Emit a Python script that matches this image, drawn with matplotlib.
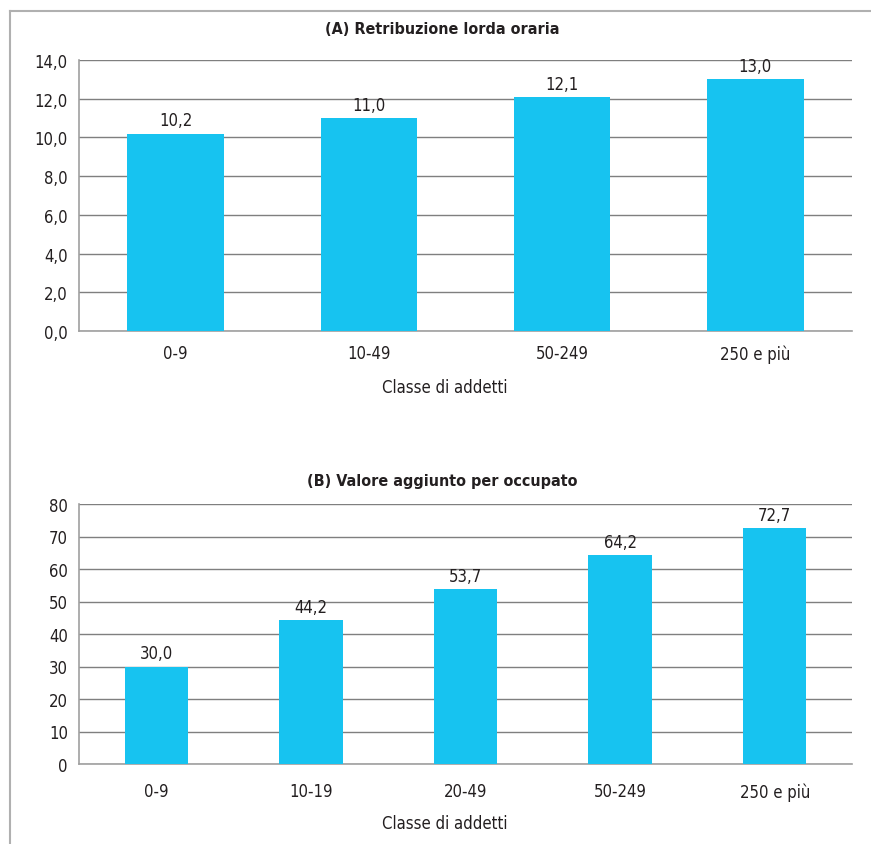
import matplotlib.pyplot as plt
from matplotlib.lines import Line2D

plt.rcParams['font.family'] = ['DejaVu Sans']
plt.rcParams['font.stretch'] = 'condensed'

# Panel A: gross hourly pay by firm size
classi_a = ["0-9", "10-49", "50-249", "250 e più"]
retribuzione = [10.2, 11.0, 12.1, 13.0]

# Panel B: value added per employee by firm size
classi_b = ["0-9", "10-19", "20-49", "50-249", "250 e più"]
valore_aggiunto = [30.0, 44.2, 53.7, 64.2, 72.7]

bar_color = "#17C3F0"
grid_color = "#7f7f7f"
text_color = "#231f20"

fig = plt.figure(figsize=(8.71, 8.45), dpi=100)

# outer frame (top and left rules)
fig.add_artist(Line2D([10 / 871, 10 / 871], [0, 1 - 12 / 845], color="#b0b0b0", lw=1.5))
fig.add_artist(Line2D([10 / 871, 1], [1 - 12 / 845, 1 - 12 / 845], color="#b0b0b0", lw=1.5))


def one_dec(v):
    return f"{v:.1f}".replace(".", ",")


def draw_panel(ax, cats, vals, width, ymax, step, tick_fmt, title,
               title_pad, tick_pad, label_y):
    x = range(len(cats))
    bars = ax.bar(x, vals, width=width, color=bar_color, zorder=3)
    ax.set_xlim(-0.5, len(cats) - 0.5)
    ax.set_ylim(0, ymax)
    ticks = [i * step for i in range(int(round(ymax / step)) + 1)]
    ax.set_yticks(ticks)
    ax.set_yticklabels([tick_fmt(t) for t in ticks])
    ax.set_xticks(list(x))
    ax.set_xticklabels(cats)
    ax.tick_params(length=0, labelsize=12, colors=text_color, pad=8)
    ax.tick_params(axis="x", pad=tick_pad)
    ax.grid(axis="y", color=grid_color, lw=1.0, zorder=0)
    for s in ["top", "right"]:
        ax.spines[s].set_visible(False)
    for s in ["left", "bottom"]:
        ax.spines[s].set_color("#a0a0a0")
        ax.spines[s].set_linewidth(1.2)
    for b, v in zip(bars, vals):
        ax.annotate(one_dec(v), (b.get_x() + b.get_width() / 2, v),
                    xytext=(0, 3), textcoords="offset points",
                    ha="center", va="bottom", fontsize=12, color=text_color)
    ax.set_title(title, fontsize=11.5, fontweight="bold", color=text_color,
                 pad=title_pad, x=(442 - 79) / 773)
    ax.set_xlabel("Classe di addetti", fontsize=12, color=text_color)
    ax.xaxis.set_label_coords((445 - 79) / 773, label_y)


ax_a = fig.add_axes([79 / 871, 1 - 332 / 845, 773 / 871, 271 / 845])
draw_panel(ax_a, classi_a, retribuzione, 0.5, 14, 2, one_dec,
           "(A) Retribuzione lorda oraria", 19.5, 9.5, -0.173)

ax_b = fig.add_axes([79 / 871, 1 - 765 / 845, 773 / 871, 260 / 845])
draw_panel(ax_b, classi_b, valore_aggiunto, 0.41, 80, 10, lambda v: f"{v:.0f}",
           "(B) Valore aggiunto per occupato", 13.5, 13, -0.192)

fig.savefig("out.png", dpi=100)
